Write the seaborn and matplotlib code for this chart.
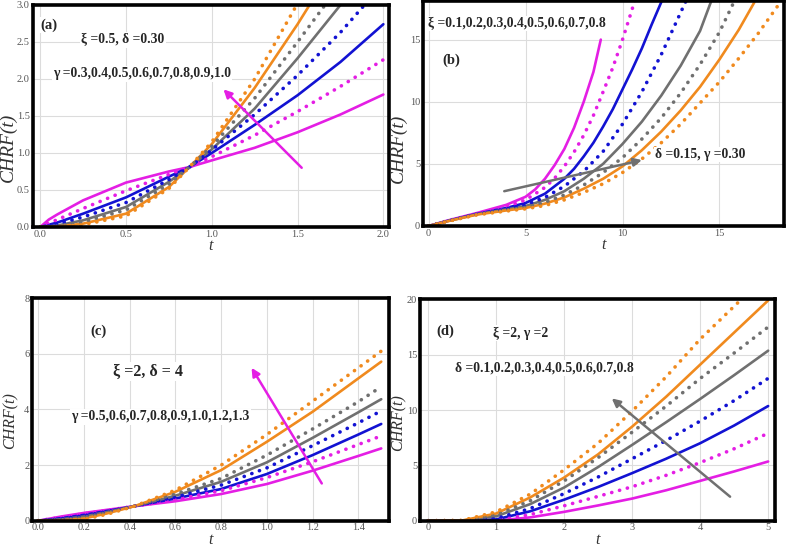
import numpy as np
import pandas as pd
import seaborn as sns
import matplotlib.pyplot as plt

# ---------------------------------------------------------------
# values
# ---------------------------------------------------------------

# (a) xi = 0.5, delta = 0.30, gamma = 0.3 ... 1.0
a_t = [0, 0.05, 0.1, 0.25, 0.5, 0.75, 0.87, 1.0, 1.25, 1.5, 1.75, 2.0]
a_g03 = [0, 0.10, 0.17, 0.36, 0.60, 0.75, 0.81, 0.90, 1.07, 1.28, 1.52, 1.79]
a_g04 = [0, 0.05, 0.10, 0.25, 0.49, 0.71, 0.81, 0.95, 1.24, 1.56, 1.90, 2.26]
a_g05 = [0, 0.03, 0.06, 0.18, 0.40, 0.68, 0.81, 1.00, 1.38, 1.78, 2.23, 2.74]
a_t_g06 = [0, 0.05, 0.1, 0.25, 0.5, 0.75, 0.87, 1.0, 1.25, 1.5, 1.75, 1.89]
a_g06 = [0, 0.015, 0.04, 0.135, 0.33, 0.64, 0.81, 1.04, 1.52, 2.05, 2.63, 3.0]
a_t_g07 = [0, 0.05, 0.1, 0.25, 0.5, 0.75, 0.87, 1.0, 1.25, 1.5, 1.75]
a_g07 = [0, 0.006, 0.02, 0.09, 0.27, 0.61, 0.81, 1.05, 1.60, 2.28, 3.0]
a_t_g08 = [0, 0.05, 0.1, 0.25, 0.5, 0.75, 0.87, 1.0, 1.25, 1.5, 1.66]
a_g08 = [0, 0.003, 0.012, 0.07, 0.23, 0.58, 0.81, 1.09, 1.74, 2.50, 3.0]
a_t_g09 = [0, 0.05, 0.1, 0.25, 0.5, 0.75, 0.87, 1.0, 1.25, 1.5, 1.57]
a_g09 = [0, 0.001, 0.006, 0.045, 0.18, 0.54, 0.81, 1.12, 1.88, 2.74, 3.0]
a_t_g10 = [0, 0.05, 0.1, 0.25, 0.5, 0.75, 0.87, 1.0, 1.25, 1.495]
a_g10 = [0, 0.0005, 0.003, 0.03, 0.15, 0.52, 0.81, 1.15, 2.00, 3.0]

# (b) delta = 0.15, gamma = 0.30, xi = 0.1 ... 0.8
b_t_x01 = [0, 1, 2.5, 4, 5, 5.5, 6, 6.5, 7, 7.5, 8, 8.5, 8.88]
b_x01 = [0, 0.45, 1.05, 1.7, 2.35, 2.95, 3.8, 4.9, 6.2, 7.9, 10.0, 12.4, 15.0]
b_t_x02 = [0, 1, 2.5, 4, 5, 6, 6.5, 7, 7.5, 8, 8.5, 9, 9.5, 10, 10.65]
b_x02 = [0, 0.43, 1.0, 1.55, 2.1, 3.1, 3.85, 4.8, 5.95, 7.3, 8.9, 10.8, 12.75, 15.0, 18.2]
b_t_x03 = [0, 1, 2.5, 4, 5, 6, 7, 7.5, 8, 8.5, 9, 9.5, 10, 10.5, 11, 11.5, 12.05]
b_x03 = [0, 0.42, 0.98, 1.45, 1.85, 2.6, 3.8, 4.6, 5.6, 6.7, 8.0, 9.4, 11.0, 12.6, 14.3, 16.2, 18.2]
b_t_x04 = [0, 1, 2.5, 4, 5, 6, 7, 8, 9, 10, 11, 12, 13.3]
b_x04 = [0, 0.41, 0.96, 1.38, 1.7, 2.3, 3.2, 4.4, 6.0, 8.2, 10.8, 13.8, 18.2]
b_t_x05 = [0, 1, 2.5, 4, 5, 6, 7, 8, 9, 10, 11, 12, 13, 14, 14.6]
b_x05 = [0, 0.4, 0.95, 1.33, 1.6, 2.1, 2.8, 3.8, 5.0, 6.6, 8.4, 10.5, 12.9, 15.7, 18.2]
b_t_x06 = [0, 1, 2.5, 4, 5, 6, 7, 8, 9, 10, 11, 12, 13, 14, 15, 15.8]
b_x06 = [0, 0.4, 0.94, 1.28, 1.5, 1.9, 2.5, 3.3, 4.3, 5.5, 7.0, 8.7, 10.7, 13.0, 15.6, 18.2]
b_t_x07 = [0, 1, 2.5, 4, 5, 6, 7, 8, 9, 10, 11, 12, 13, 14, 15, 16, 16.8]
b_x07 = [0, 0.39, 0.92, 1.25, 1.45, 1.8, 2.3, 3.0, 3.8, 4.8, 6.1, 7.6, 9.3, 11.2, 13.4, 15.8, 18.0]
b_t_x08 = [0, 1, 2.5, 4, 5, 6, 7, 8, 9, 10, 11, 12, 13, 14, 15, 16, 17, 18]
b_x08 = [0, 0.38, 0.9, 1.2, 1.38, 1.65, 2.1, 2.7, 3.4, 4.3, 5.4, 6.7, 8.2, 9.9, 11.6, 13.5, 15.5, 17.7]

# (c) xi = 2, delta = 4, gamma = 0.5 ... 1.3
c_t = [0, 0.1, 0.2, 0.3, 0.42, 0.6, 0.8, 1.0, 1.2, 1.4, 1.5]
c_g05 = [0, 0.15, 0.28, 0.39, 0.52, 0.70, 0.96, 1.32, 1.80, 2.33, 2.60]
c_g06 = [0, 0.12, 0.25, 0.37, 0.52, 0.76, 1.08, 1.55, 2.12, 2.74, 3.05]
c_g07 = [0, 0.09, 0.21, 0.35, 0.52, 0.80, 1.14, 1.68, 2.36, 3.10, 3.48]
c_g08 = [0, 0.07, 0.18, 0.33, 0.52, 0.85, 1.28, 1.90, 2.70, 3.52, 3.95]
c_g09 = [0, 0.05, 0.15, 0.31, 0.52, 0.90, 1.40, 2.10, 2.98, 3.90, 4.37]
c_g10 = [0, 0.03, 0.12, 0.29, 0.52, 0.96, 1.52, 2.36, 3.30, 4.28, 4.82]
c_g12 = [0, 0.01, 0.08, 0.26, 0.52, 1.04, 1.82, 2.84, 3.92, 5.12, 5.72]
c_g13 = [0, 0.005, 0.05, 0.23, 0.52, 1.10, 2.00, 3.10, 4.30, 5.50, 6.10]

# (d) xi = 2, gamma = 2, delta = 0.1 ... 0.8
d_t = [0, 0.5, 1.0, 1.5, 2.0, 2.5, 3.0, 3.5, 4.0, 4.5, 5.0]
d_d01 = [0, 0, 0, 0.3, 0.8, 1.38, 2.0, 2.75, 3.6, 4.45, 5.35]
d_d02 = [0, 0, 0.05, 0.55, 1.35, 2.2, 3.07, 4.1, 5.25, 6.5, 7.9]
d_d03 = [0, 0, 0.12, 0.85, 1.9, 3.05, 4.3, 5.6, 7.0, 8.6, 10.36]
d_d04 = [0, 0, 0.2, 1.1, 2.45, 3.95, 5.6, 7.25, 9.0, 10.85, 12.86]
d_d05 = [0, 0, 0.4, 1.5, 3.0, 4.85, 6.85, 8.9, 11.0, 13.15, 15.36]
d_d06 = [0, 0, 0.5, 1.8, 3.6, 5.7, 8.0, 10.35, 12.85, 15.15, 17.5]
d_d07 = [0, 0.02, 0.65, 2.1, 3.9, 6.0, 8.5, 11.2, 14.1, 17.0, 19.9]
d_t_d08 = [0, 0.5, 1.0, 1.5, 2.0, 2.5, 3.0, 3.5, 4.0, 4.64]
d_d08 = [0, 0.03, 0.8, 2.4, 4.6, 7.0, 9.9, 13.0, 16.4, 20.2]

# ---------------------------------------------------------------
sns.set_style('whitegrid', {'grid.color': '#dcdcdc', 'axes.edgecolor': 'black'})
plt.rcParams['font.family'] = ['Liberation Serif', 'DejaVu Serif']

MAG, BLUE, GRAY, ORANGE = '#e41ee4', '#1212d2', '#707070', '#f08a1e'
pair_colors = [MAG, BLUE, GRAY, ORANGE]


def draw_curves(ax, curves):
    # even entries are drawn solid, odd entries dotted (same colour pairwise)
    frames = []
    for i, (t, y) in enumerate(curves):
        frames.append(pd.DataFrame({'t': t, 'chrf': y, 'pair': str(i // 2), 'kind': i % 2}))
    df = pd.concat(frames, ignore_index=True)
    pal = {str(k): c for k, c in enumerate(pair_colors)}
    sns.lineplot(data=df[df.kind == 0], x='t', y='chrf', hue='pair', palette=pal,
                 estimator=None, sort=False, legend=False, lw=1.9,
                 solid_joinstyle='round', ax=ax)
    sns.lineplot(data=df[df.kind == 1], x='t', y='chrf', hue='pair', palette=pal,
                 estimator=None, sort=False, legend=False, lw=2.6,
                 linestyle=(0, (0.05, 2.2)), dash_capstyle='round', ax=ax)


def style_axes(ax, xlim, ylim, xt, yt, ylab_pos, ylab_size):
    ax.set_xlim(*xlim)
    ax.set_ylim(*ylim)
    ax.set_xticks(xt)
    ax.set_yticks(yt)
    ax.tick_params(length=0, pad=2, labelsize=7.5, labelcolor='#555555')
    for s in ax.spines.values():
        s.set_linewidth(2.6)
        s.set_color('black')
    ax.set_xlabel('t', fontsize=11.5, fontstyle='italic', color='#333333')
    ax.set_ylabel('CHRF(t)', fontsize=ylab_size, fontstyle='italic', color='#333333')
    ax.yaxis.set_label_coords(*ylab_pos)
    ax.xaxis.set_label_coords(0.5, -0.05)


def label(ax, x, y, s, size=9.8):
    ax.text(x, y, s, fontsize=size, fontweight='bold', ha='left', va='center',
            bbox=dict(facecolor='white', edgecolor='none', pad=1.0), zorder=5)


def arrow(ax, tail, head, c):
    ax.annotate('', xy=head, xytext=tail, zorder=6,
                arrowprops=dict(arrowstyle='-|>', color=c, lw=1.8,
                                mutation_scale=12, shrinkA=0, shrinkB=0))


fig = plt.figure(figsize=(7.87, 5.48), dpi=100)
ax_a = fig.add_axes([0.0413, 0.5858, 0.4530, 0.4051])
ax_b = fig.add_axes([0.5375, 0.5876, 0.4587, 0.4104])
ax_c = fig.add_axes([0.0410, 0.0498, 0.4533, 0.4059])
ax_d = fig.add_axes([0.5337, 0.0498, 0.4510, 0.4040])

# (a)
draw_curves(ax_a, [(a_t, a_g03), (a_t, a_g04), (a_t, a_g05), (a_t_g06, a_g06),
                   (a_t_g07, a_g07), (a_t_g08, a_g08), (a_t_g09, a_g09), (a_t_g10, a_g10)])
style_axes(ax_a, (-0.045, 2.033), (0, 3.0), np.arange(0, 2.01, 0.5), np.arange(0, 3.01, 0.5),
           (-0.043, 0.36), 14)
label(ax_a, 0.0, 2.73, '(a)', 10.5)
label(ax_a, 0.24, 2.53, 'ξ =0.5, δ =0.30')
label(ax_a, 0.075, 2.07, 'γ =0.3,0.4,0.5,0.6,0.7,0.8,0.9,1.0')
arrow(ax_a, (1.524, 0.80), (1.068, 1.86), MAG)

# (b)
draw_curves(ax_b, [(b_t_x01, b_x01), (b_t_x02, b_x02), (b_t_x03, b_x03), (b_t_x04, b_x04),
                   (b_t_x05, b_x05), (b_t_x06, b_x06), (b_t_x07, b_x07), (b_t_x08, b_x08)])
style_axes(ax_b, (-0.29, 18.33), (0, 18.1), [0, 5, 10, 15], [0, 5, 10, 15],
           (-0.044, 0.347), 14)
label(ax_b, -0.05, 16.3, 'ξ =0.1,0.2,0.3,0.4,0.5,0.6,0.7,0.8')
label(ax_b, 0.7, 13.3, '(b)', 10.5)
label(ax_b, 11.7, 5.76, 'δ =0.15, γ =0.30')
arrow(ax_b, (3.9, 2.8), (11.0, 5.3), GRAY)

# (c)
draw_curves(ax_c, [(c_t, c_g05), (c_t, c_g06), (c_t, c_g07), (c_t, c_g08),
                   (c_t, c_g09), (c_t, c_g10), (c_t, c_g12), (c_t, c_g13)])
style_axes(ax_c, (-0.026, 1.534), (0, 8), np.arange(0, 1.41, 0.2), [0, 2, 4, 6, 8],
           (-0.038, 0.45), 11.5)
label(ax_c, 0.23, 6.8, '(c)', 10.5)
label(ax_c, 0.325, 5.36, 'ξ =2, δ = 4', 11.5)
label(ax_c, 0.145, 3.74, 'γ =0.5,0.6,0.7,0.8,0.9,1.0,1.2,1.3')
arrow(ax_c, (1.24, 1.34), (0.933, 5.5), MAG)

# (d)
draw_curves(ax_d, [(d_t, d_d01), (d_t, d_d02), (d_t, d_d03), (d_t, d_d04),
                   (d_t, d_d05), (d_t, d_d06), (d_t, d_d07), (d_t_d08, d_d08)])
style_axes(ax_d, (-0.12, 5.1), (0, 20), [0, 1, 2, 3, 4, 5], [0, 5, 10, 15, 20],
           (-0.039, 0.443), 11.5)
label(ax_d, 0.12, 17.07, '(d)', 10.5)
label(ax_d, 0.96, 16.93, 'ξ =2, γ =2')
label(ax_d, 0.39, 13.77, 'δ =0.1,0.2,0.3,0.4,0.5,0.6,0.7,0.8')
arrow(ax_d, (4.44, 2.17), (2.70, 11.05), GRAY)

fig.savefig('out.png', dpi=100)
